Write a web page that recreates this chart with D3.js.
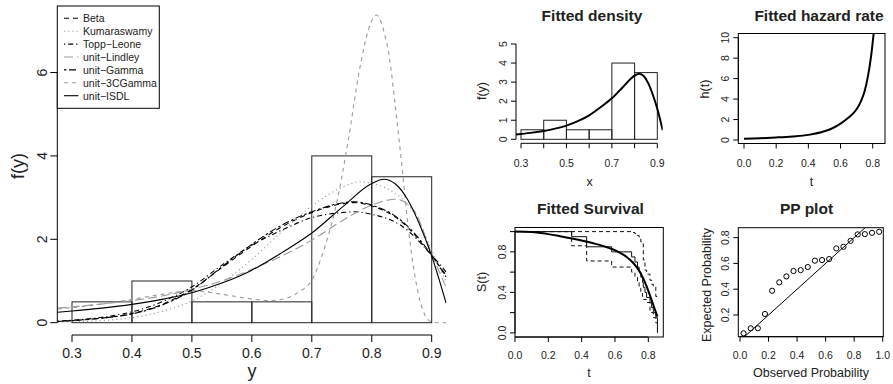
<!DOCTYPE html>
<html><head><meta charset="utf-8">
<script src="https://cdn.jsdelivr.net/npm/d3@7/dist/d3.min.js"></script>
<style>body{margin:0;background:#fff}svg{display:block;font-family:"Liberation Sans",Arial,Helvetica,sans-serif}</style>
</head><body><svg id="c" width="893" height="384"></svg>
<script>
// ---------------- DATA ----------------
const histBreaks = [0.3,0.4,0.5,0.6,0.7,0.8,0.9];
const histDensity = [0.5,1.0,0.5,0.5,4.0,3.5];

const betaPts = [[0.276,0.03],[0.30,0.05],[0.35,0.11],[0.40,0.22],[0.45,0.44],[0.50,0.80],[0.55,1.32],[0.60,1.84],[0.65,2.30],[0.70,2.64],[0.75,2.85],[0.77,2.88],[0.80,2.80],[0.85,2.42],[0.90,1.60],[0.924,1.14]];
const kumaPts = [[0.276,0.01],[0.30,0.02],[0.35,0.05],[0.40,0.12],[0.45,0.27],[0.50,0.52],[0.55,0.95],[0.60,1.52],[0.65,2.18],[0.70,2.80],[0.75,3.24],[0.78,3.38],[0.80,3.34],[0.825,3.22],[0.85,2.98],[0.875,2.54],[0.90,1.74],[0.924,0.98]];
const toppPts = [[0.276,0.04],[0.30,0.06],[0.35,0.13],[0.40,0.26],[0.45,0.50],[0.50,0.86],[0.55,1.38],[0.60,1.86],[0.65,2.22],[0.70,2.52],[0.75,2.64],[0.77,2.66],[0.80,2.60],[0.85,2.32],[0.90,1.62],[0.924,1.22]];
const lindPts = [[0.276,0.35],[0.30,0.38],[0.35,0.45],[0.40,0.53],[0.45,0.64],[0.50,0.80],[0.55,1.00],[0.60,1.28],[0.65,1.60],[0.70,1.98],[0.75,2.44],[0.80,2.82],[0.84,2.96],[0.87,2.70],[0.90,1.65],[0.924,0.85]];
const gammaPts = [[0.276,0.03],[0.30,0.05],[0.35,0.11],[0.40,0.21],[0.45,0.42],[0.50,0.78],[0.55,1.34],[0.60,1.88],[0.65,2.34],[0.70,2.66],[0.75,2.87],[0.77,2.90],[0.80,2.82],[0.85,2.44],[0.90,1.62],[0.924,1.10]];
const cgPts = [[0.276,0.33],[0.30,0.36],[0.35,0.45],[0.40,0.56],[0.45,0.68],[0.50,0.77],[0.55,0.68],[0.60,0.57],[0.63,0.53],[0.66,0.60],[0.68,0.75],[0.70,1.02],[0.72,1.74],[0.74,2.78],[0.76,4.30],[0.78,6.10],[0.795,7.05],[0.808,7.38],[0.82,7.00],[0.83,6.30],[0.84,5.10],[0.85,3.80],[0.86,2.40],[0.87,1.30],[0.88,0.55],[0.89,0.15],[0.90,0.02],[0.91,0],[0.924,0]];
const isdlPts = [[0.276,0.25],[0.30,0.28],[0.35,0.35],[0.40,0.44],[0.45,0.56],[0.50,0.72],[0.55,0.95],[0.60,1.26],[0.65,1.68],[0.70,2.15],[0.75,2.76],[0.80,3.34],[0.82,3.44],[0.84,3.32],[0.86,2.95],[0.88,2.35],[0.90,1.60],[0.924,0.47]];

const legendNames = ["Beta","Kumaraswamy","Topp\u2212Leone","unit\u2212Lindley","unit\u2212Gamma","unit\u22123CGamma","unit\u2212ISDL"];

const mainXTicks = [0.3,0.4,0.5,0.6,0.7,0.8,0.9];
const mainYTicks = [0,2,4,6];

const hazardPts = [[0,0.12],[0.1,0.17],[0.2,0.25],[0.3,0.35],[0.4,0.50],[0.5,0.85],[0.55,1.15],[0.6,1.60],[0.65,2.20],[0.7,3.00],[0.73,3.90],[0.75,4.80],[0.77,6.20],[0.79,8.20],[0.81,11.0]];
const hazXTicks = [0,0.2,0.4,0.6,0.8];
const hazYTicks = [0,2,4,6,8,10];

const kmSteps = [[0,1],[0.34,0.95],[0.43,0.85],[0.58,0.80],[0.70,0.75],[0.72,0.70],[0.735,0.65],[0.745,0.60],[0.755,0.55],[0.765,0.50],[0.77,0.45],[0.78,0.40],[0.79,0.35],[0.81,0.30],[0.82,0.25],[0.83,0.20],[0.845,0.15],[0.855,0.0]];
const kmUpper = [[0,1],[0.70,0.99],[0.72,0.98],[0.735,0.96],[0.745,0.93],[0.755,0.90],[0.765,0.88],[0.77,0.72],[0.78,0.62],[0.79,0.58],[0.81,0.52],[0.82,0.48],[0.83,0.46],[0.845,0.36],[0.855,0.36]];
const kmLower = [[0,1],[0.34,0.86],[0.43,0.71],[0.58,0.65],[0.70,0.60],[0.72,0.55],[0.735,0.50],[0.745,0.45],[0.755,0.40],[0.765,0.36],[0.77,0.33],[0.79,0.30],[0.81,0.22],[0.82,0.20],[0.83,0.15],[0.845,0.10],[0.855,0.0]];
const survFit = [[0,1.0],[0.1,0.995],[0.2,0.975],[0.27,0.955],[0.35,0.93],[0.47,0.885],[0.57,0.835],[0.62,0.80],[0.67,0.75],[0.71,0.69],[0.75,0.60],[0.79,0.46],[0.81,0.37],[0.83,0.275],[0.855,0.16]];
const survXTicks = [0,0.2,0.4,0.6,0.8];
const survYTicks = [0,0.2,0.4,0.6,0.8,1.0];
const survYLabels = [0,0.4,0.8];

const ppObserved = [0.025,0.075,0.125,0.175,0.225,0.275,0.325,0.375,0.425,0.475,0.525,0.575,0.625,0.675,0.725,0.775,0.825,0.875,0.925,0.975];
const ppExpected = [0.058,0.097,0.097,0.208,0.388,0.453,0.499,0.541,0.548,0.572,0.621,0.626,0.634,0.716,0.729,0.775,0.825,0.827,0.837,0.845];
const ppXTicks = [0,0.2,0.4,0.6,0.8,1.0];
const ppYTicks = [0.2,0.4,0.6,0.8];

const densXTicks = [0.3,0.4,0.5,0.6,0.7,0.8,0.9];
const densXLabels = [0.3,0.5,0.7,0.9];
const densYTicks = [0,1,2,3,4,5];

// ---------------- DRAW ----------------
const svg = d3.select("#c");
const GRAY = "#9a9a9a";
let clipId = 0;
function clip(x0,y0,x1,y1){
  const id = "cl"+(clipId++);
  svg.append("clipPath").attr("id",id).append("rect").attr("x",x0).attr("y",y0).attr("width",x1-x0).attr("height",y1-y0);
  return "url(#"+id+")";
}
function fmt(v,d){ return d===0? String(v) : v.toFixed(d); }

function xAxis(x, yLine, ticks, labels, tickLen, fs, labY, dec){
  const g = svg.append("g");
  g.append("line").attr("x1",x(ticks[0])).attr("x2",x(ticks[ticks.length-1])).attr("y1",yLine).attr("y2",yLine).attr("stroke","#000");
  ticks.forEach(t=>g.append("line").attr("x1",x(t)).attr("x2",x(t)).attr("y1",yLine).attr("y2",yLine+tickLen).attr("stroke","#000"));
  labels.forEach(t=>g.append("text").attr("x",x(t)).attr("y",labY).attr("text-anchor","middle").attr("font-size",fs).attr("fill","#222").text(fmt(t,dec)));
}
function yAxis(y, xLine, ticks, labels, tickLen, fs, labX, dec){
  const g = svg.append("g");
  g.append("line").attr("x1",xLine).attr("x2",xLine).attr("y1",y(ticks[0])).attr("y2",y(ticks[ticks.length-1])).attr("stroke","#000");
  ticks.forEach(t=>g.append("line").attr("x1",xLine-tickLen).attr("x2",xLine).attr("y1",y(t)).attr("y2",y(t)).attr("stroke","#000"));
  labels.forEach(t=>g.append("text").attr("transform",`translate(${labX},${y(t)}) rotate(-90)`).attr("text-anchor","middle").attr("font-size",fs).attr("fill","#222").text(fmt(t,dec)));
}
function vText(x,y,s,fs){ svg.append("text").attr("transform",`translate(${x},${y}) rotate(-90)`).attr("text-anchor","middle").attr("font-size",fs).attr("fill","#222").text(s); }
function hText(x,y,s,fs,bold){ svg.append("text").attr("x",x).attr("y",y).attr("text-anchor","middle").attr("font-size",fs).attr("font-weight",bold?"bold":"normal").attr("fill","#222").text(s); }

// ===== Main plot =====
{
  const x = d3.scaleLinear().domain([0.3,0.9]).range([72,431.7]);
  const y = d3.scaleLinear().domain([0,6]).range([322.7,72.5]);
  const cp = clip(57.3,1.5,446.7,335);
  const g = svg.append("g").attr("clip-path",cp);
  histDensity.forEach((d,i)=>{
    g.append("rect").attr("x",x(histBreaks[i])).attr("y",y(d)).attr("width",x(histBreaks[i+1])-x(histBreaks[i])).attr("height",y(0)-y(d))
     .attr("fill","none").attr("stroke","#222").attr("stroke-width",1);
  });
  const line = d3.line().x(d=>x(d[0])).y(d=>y(d[1])).curve(d3.curveMonotoneX);
  const series = [
    {pts:betaPts, col:"#000", dash:"5,4"},
    {pts:kumaPts, col:GRAY, dash:"1.2,3"},
    {pts:toppPts, col:"#000", dash:"1.2,3,5,3"},
    {pts:lindPts, col:GRAY, dash:"9,4"},
    {pts:gammaPts, col:"#000", dash:"2.5,2.5,7,2.5"},
    {pts:cgPts, col:GRAY, dash:"4,4"},
    {pts:isdlPts, col:"#000", dash:null}
  ];
  series.forEach(s=>{
    g.append("path").attr("d",line(s.pts)).attr("fill","none").attr("stroke",s.col).attr("stroke-width",1.1).attr("stroke-dasharray",s.dash);
  });
  xAxis(x, 335, mainXTicks, mainXTicks, 7, 14, 357.5, 1);
  yAxis(y, 57.3, mainYTicks, mainYTicks, 7, 14, 46.5, 0);
  hText(252, 376.5, "y", 18);
  vText(23.5, 166, "f(y)", 18);
  // legend
  svg.append("rect").attr("x",57.3).attr("y",6).attr("width",102).attr("height",102.3).attr("fill","#fff").attr("stroke","#000");
  series.forEach((s,i)=>{
    const yy = 18.3 + i*12.9;
    svg.append("line").attr("x1",64).attr("x2",78.5).attr("y1",yy).attr("y2",yy).attr("stroke",s.col).attr("stroke-width",1.1).attr("stroke-dasharray",s.dash);
    svg.append("text").attr("x",83).attr("y",yy+3.8).attr("font-size",10.5).attr("fill","#222").text(legendNames[i]);
  });
}

// ===== Fitted density =====
{
  const x = d3.scaleLinear().domain([0.3,0.9]).range([521,657.3]);
  const y = d3.scaleLinear().domain([0,5]).range([139.3,44]);
  const cp = clip(516,33.5,662.7,143.3);
  const g = svg.append("g").attr("clip-path",cp);
  histDensity.forEach((d,i)=>{
    g.append("rect").attr("x",x(histBreaks[i])).attr("y",y(d)).attr("width",x(histBreaks[i+1])-x(histBreaks[i])).attr("height",y(0)-y(d))
     .attr("fill","none").attr("stroke","#222");
  });
  g.append("path").attr("d",d3.line().x(d=>x(d[0])).y(d=>y(d[1])).curve(d3.curveMonotoneX)(isdlPts)).attr("fill","none").attr("stroke","#000").attr("stroke-width",2);
  xAxis(x, 143.3, densXTicks, densXLabels, 5, 10.5, 166.5, 1);
  yAxis(y, 516, densYTicks, densYTicks, 5, 10.5, 507, 0);
  hText(592, 20.5, "Fitted density", 15.5, true);
  hText(589.5, 186, "x", 12.5);
  vText(485.5, 91, "f(y)", 12.5);
}

// ===== Fitted hazard =====
{
  const x = d3.scaleLinear().domain([0,0.8]).range([744,872.7]);
  const y = d3.scaleLinear().domain([0,10]).range([140,37.7]);
  svg.append("rect").attr("x",738.3).attr("y",33.5).attr("width",146.7).attr("height",110).attr("fill","none").attr("stroke","#000");
  const cp = clip(738.3,33.5,885,143.5);
  svg.append("path").attr("clip-path",cp).attr("d",d3.line().x(d=>x(d[0])).y(d=>y(d[1])).curve(d3.curveMonotoneX)(hazardPts)).attr("fill","none").attr("stroke","#000").attr("stroke-width",2);
  xAxis(x, 143.5, hazXTicks, hazXTicks, 5, 10.5, 166.5, 1);
  yAxis(y, 738.3, hazYTicks, hazYTicks, 5, 10.5, 729, 0);
  hText(819, 20.5, "Fitted hazard rate", 15.5, true);
  hText(811.5, 186, "t", 12.5);
  vText(708.5, 89, "h(t)", 12.5);
}

// ===== Fitted Survival =====
{
  const x = d3.scaleLinear().domain([0,0.89]).range([515,663.3]);
  const y = d3.scaleLinear().domain([0,1]).range([332.9,231.6]);
  svg.append("rect").attr("x",515).attr("y",227.5).attr("width",148.3).attr("height",109.5).attr("fill","none").attr("stroke","#000");
  const cp = clip(515,227.5,663.3,337);
  const step = d3.line().x(d=>x(d[0])).y(d=>y(d[1])).curve(d3.curveStepAfter);
  const g = svg.append("g").attr("clip-path",cp);
  g.append("path").attr("d",step(kmSteps)).attr("fill","none").attr("stroke","#111").attr("stroke-width",1);
  g.append("path").attr("d",step(kmUpper)).attr("fill","none").attr("stroke","#111").attr("stroke-width",1).attr("stroke-dasharray","4,3");
  g.append("path").attr("d",step(kmLower)).attr("fill","none").attr("stroke","#111").attr("stroke-width",1).attr("stroke-dasharray","4,3");
  g.append("path").attr("d",d3.line().x(d=>x(d[0])).y(d=>y(d[1])).curve(d3.curveMonotoneX)(survFit)).attr("fill","none").attr("stroke","#000").attr("stroke-width",2);
  xAxis(x, 337, survXTicks, survXTicks, 5, 10.5, 358.5, 1);
  yAxis(y, 515, survYTicks, survYLabels, 5, 10.5, 506, 1);
  hText(590.5, 213.5, "Fitted Survival", 15.5, true);
  hText(589, 377, "t", 12.5);
  vText(485.5, 282, "S(t)", 12.5);
}

// ===== PP plot =====
{
  const x = d3.scaleLinear().domain([0,1]).range([740,882.7]);
  const y = d3.scaleLinear().domain([0.2,0.8]).range([315,237.6]);
  svg.append("rect").attr("x",738.3).attr("y",227.7).attr("width",145).attr("height",109).attr("fill","none").attr("stroke","#000");
  const cp = clip(738.3,227.7,883.3,336.7);
  svg.append("line").attr("clip-path",cp).attr("x1",x(-0.1)).attr("y1",y(-0.1)).attr("x2",x(1.1)).attr("y2",y(1.1)).attr("stroke","#000");
  ppObserved.forEach((o,i)=>{
    svg.append("circle").attr("cx",x(o)).attr("cy",y(ppExpected[i])).attr("r",2.6).attr("fill","none").attr("stroke","#000").attr("stroke-width",1);
  });
  xAxis(x, 336.7, ppXTicks, ppXTicks, 5, 10.5, 358.5, 1);
  yAxis(y, 738.3, ppYTicks, ppYTicks, 5, 10.5, 729, 1);
  hText(806.5, 213.5, "PP plot", 15.5, true);
  hText(811, 377, "Observed Probability", 12.5);
  vText(710.5, 285, "Expected Probability", 12.5);
}
</script></body></html>
